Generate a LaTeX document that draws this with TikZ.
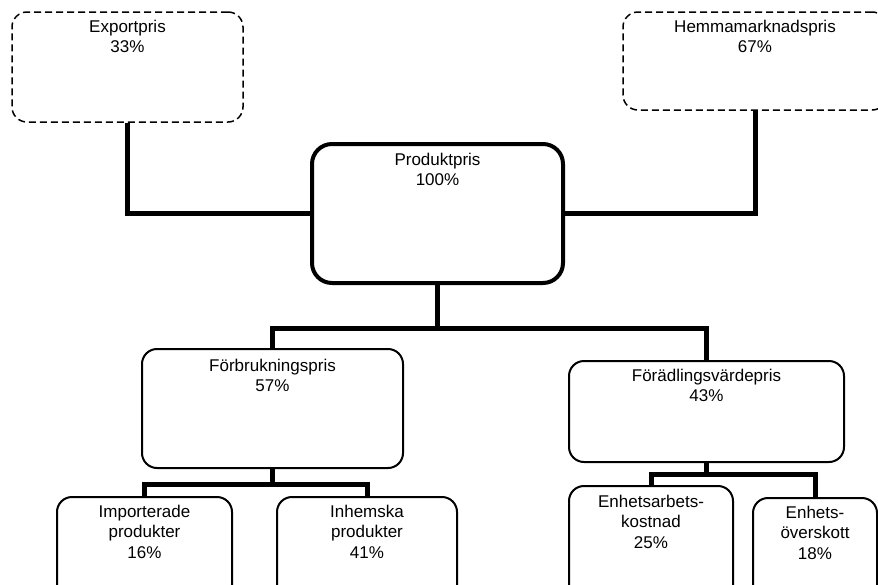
\documentclass[tikz,border=0pt]{standalone}
\usepackage{fontspec}
\setmainfont{Liberation Sans}
\usepackage{tikz}

\newcommand{\ftop}{\rule{0pt}{15pt}}

\tikzset{
  pris/.style = {rectangle, draw = black, line width = 2pt, rounded corners = 15pt, inner sep = 0pt},
  vagpris/.style = {pris, line width = 1.5pt, dash pattern = on 7pt off 4pt},
  huvudpris/.style = {pris, line width = 4pt, rounded corners = 20pt},
  tekst/.style = {anchor = north, align = center, inner sep = 0pt, font = \fontsize{17}{20.5}\selectfont},
  led/.style = {draw, line width = 5pt}
}

\begin{document}
\begin{tikzpicture}[x = 1pt, y = -1pt]

\useasboundingbox (0, 0) rectangle (878, 584);

% boxes
\node[vagpris, minimum width = 231pt, minimum height = 110pt] (export) at (127.5, 67) {};
\node[vagpris, minimum width = 264pt, minimum height = 98pt] (hemma) at (755, 61) {};
\node[huvudpris, minimum width = 251pt, minimum height = 139pt] (produkt) at (437.5, 213.5) {};
\node[pris, minimum width = 261pt, minimum height = 119pt] (forbruk) at (272.5, 408.5) {};
\node[pris, minimum width = 275pt, minimum height = 101pt] (foradl) at (706.5, 411.5) {};
\node[pris, minimum width = 175pt, minimum height = 103pt] (import) at (144.5, 548.5) {};
\node[pris, minimum width = 180pt, minimum height = 103pt] (inhemsk) at (367, 548.5) {};
\node[pris, minimum width = 164pt, minimum height = 114pt] (enharb) at (651, 543) {};
\node[pris, minimum width = 124pt, minimum height = 102pt] (enhover) at (815, 549) {};

% texts
\node[tekst] (exportT) at ([yshift = -6pt] export.north) {\ftop Exportpris\\33\%};
\node[tekst] (hemmaT) at ([yshift = -6pt] hemma.north) {\ftop Hemmamarknadspris\\67\%};
\node[tekst] (produktT) at ([yshift = -8pt] produkt.north) {\ftop Produktpris\\100\%};
\node[tekst] (forbrukT) at ([yshift = -8pt] forbruk.north) {\ftop Förbrukningspris\\57\%};
\node[tekst] (foradlT) at ([yshift = -6pt] foradl.north) {\ftop Förädlingsvärdepris\\43\%};
\node[tekst] (importT) at ([yshift = -6pt] import.north) {\ftop Importerade\\produkter\\16\%};
\node[tekst] (inhemskT) at ([yshift = -6pt] inhemsk.north) {\ftop Inhemska\\produkter\\41\%};
\node[tekst] (enharbT) at ([yshift = -7pt] enharb.north) {\ftop Enhetsarbets-\\kostnad\\25\%};
\node[tekst] (enhoverT) at ([yshift = -6pt] enhover.north) {\ftop Enhets-\\överskott\\18\%};

% connectors
\coordinate (gren1) at (437.5, 328);
\coordinate (gren2) at (272.5, 484);
\coordinate (gren3) at (706.5, 474);

\path[led] (export.south) |- (produkt.west);
\path[led] (hemma.south) |- (produkt.east);

\path[led] (produkt.south) -- (gren1);
\path[led] (forbruk.north) |- (gren1) -| (foradl.north);

\path[led] (forbruk.south) -- (gren2);
\path[led] (import.north) |- (gren2) -| (inhemsk.north);

\path[led] (foradl.south) -- (gren3);
\path[led] (enharb.north) |- (gren3) -| (enhover.north);

\end{tikzpicture}
\end{document}
